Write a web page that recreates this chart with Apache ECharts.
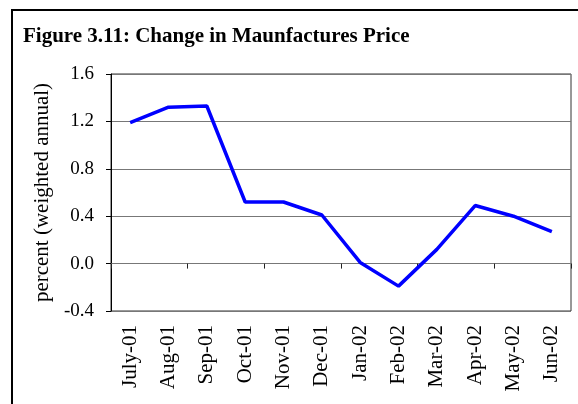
<!DOCTYPE html>
<html>
<head>
<meta charset="utf-8">
<script src="https://cdn.jsdelivr.net/npm/echarts@6/dist/echarts.min.js"></script>
<style>
  html, body { margin: 0; padding: 0; background: #fff; }
  #main { width: 578px; height: 404px; }
</style>
</head>
<body>
<div id="main"></div>
<script>
// 数据
var months = ['July-01', 'Aug-01', 'Sep-01', 'Oct-01', 'Nov-01', 'Dec-01',
              'Jan-02', 'Feb-02', 'Mar-02', 'Apr-02', 'May-02', 'Jun-02'];
var priceChange = [1.19, 1.32, 1.33, 0.52, 0.52, 0.41, 0.01, -0.19, 0.12, 0.49, 0.40, 0.27];
var yTicks = { min: -0.4, max: 1.6, step: 0.4 };

var chart = echarts.init(document.getElementById('main'));
var serif = '"Liberation Serif", "Times New Roman", serif';

chart.setOption({
  animation: false,
  backgroundColor: '#fff',
  title: {
    text: 'Figure 3.11: Change in Maunfactures Price',
    left: 23,
    top: 26,
    padding: 0,
    textStyle: { fontFamily: serif, fontSize: 21, fontWeight: 'bold', color: '#000', lineHeight: 21 }
  },
  // 外框
  graphic: [{
    type: 'rect',
    shape: { x: 12, y: 10, width: 700, height: 600 },
    style: { fill: 'none', stroke: '#000', lineWidth: 2 },
    silent: true
  }],
  grid: {
    left: 111, right: 7, top: 74, bottom: 93,
    show: true, borderColor: '#333', borderWidth: 1
  },
  xAxis: [
    {
      // 零线上的刻度
      type: 'category',
      data: months,
      boundaryGap: true,
      axisLine: { onZero: true, lineStyle: { color: '#777', width: 1 } },
      axisTick: { show: true, inside: false, length: 5, lineStyle: { color: '#222' } },
      axisLabel: { show: false },
      splitLine: { show: false }
    },
    {
      // 底部标签
      type: 'category',
      data: months,
      position: 'bottom',
      boundaryGap: true,
      axisLine: { show: false, onZero: false },
      axisTick: { show: false },
      axisLabel: { rotate: 90, margin: 14, fontFamily: serif, fontSize: 21, color: '#000' }
    }
  ],
  yAxis: {
    type: 'value',
    min: yTicks.min,
    max: yTicks.max,
    interval: yTicks.step,
    name: 'percent (weighted annual)',
    nameLocation: 'middle',
    nameGap: 55,
    nameTextStyle: { fontFamily: serif, fontSize: 21, color: '#000' },
    axisLine: { show: true, lineStyle: { color: '#000', width: 1 } },
    axisTick: { show: true, inside: false, length: 5, lineStyle: { color: '#000' } },
    axisLabel: {
      margin: 17, fontFamily: serif, fontSize: 19, color: '#000',
      formatter: function (v) { return v.toFixed(1); }
    },
    splitLine: { show: true, lineStyle: { color: '#777', width: 1 } }
  },
  series: [{
    type: 'line',
    data: priceChange,
    xAxisIndex: 0,
    symbol: 'none',
    lineStyle: { color: '#0000ff', width: 3.5 },
    z: 5
  }]
});
</script>
</body>
</html>
